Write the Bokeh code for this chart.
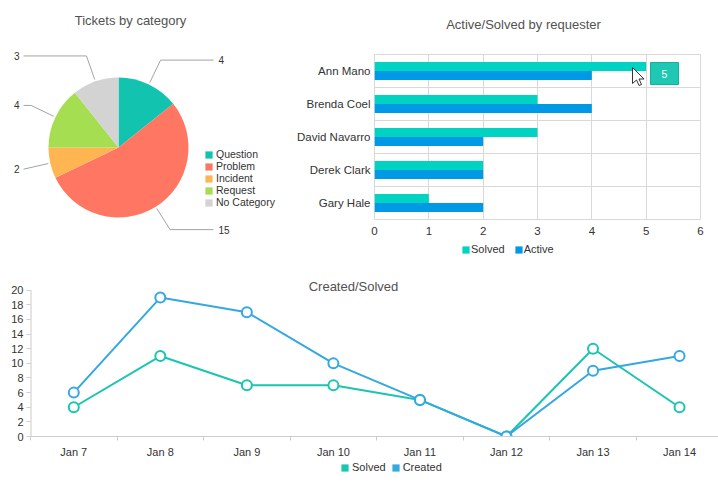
import math
from bokeh.plotting import figure
from bokeh.models import (ColumnDataSource, Range1d, FactorRange, Legend, LegendItem,
                          Label, Span, FixedTicker)
from bokeh.layouts import column, row
from bokeh.transform import dodge
from bokeh.core.properties import value
from bokeh.embed import file_html
from bokeh.resources import INLINE

FONT = "Liberation Sans"
TXT = "#333333"
TTL = "#525252"
GRID = "#d9d9d9"
NAN = float("nan")

# ---------------- data ----------------
pie_categories = ["Question", "Problem", "Incident", "Request", "No Category"]
pie_values = [4, 15, 2, 4, 3]
pie_colors = ["#12C3AF", "#FF7663", "#FFB551", "#A5DE51", "#D3D3D3"]

requesters = ["Ann Mano", "Brenda Coel", "David Navarro", "Derek Clark", "Gary Hale"]
req_solved = [5, 3, 3, 2, 1]
req_active = [4, 4, 2, 2, 2]
bar_ticks = [0, 1, 2, 3, 4, 5, 6]

days = ["Jan 7", "Jan 8", "Jan 9", "Jan 10", "Jan 11", "Jan 12", "Jan 13", "Jan 14"]
day_solved = [4, 11, 7, 7, 5, 0, 12, 4]
day_created = [6, 19, 17, 10, 5, 0, 9, 11]
y_ticks = [0, 2, 4, 6, 8, 10, 12, 14, 16, 18, 20]

SOL_BAR, ACT_BAR = "#00D3C2", "#0099E5"
SOL_LINE, CRE_LINE = "#1CC5AF", "#34A8E0"


def style_legend(leg, size="11px", standoff=3):
    leg.padding = 0
    leg.margin = 0
    leg.spacing = 0
    leg.glyph_width = 9
    leg.glyph_height = 9
    leg.label_standoff = standoff
    leg.label_height = 12
    leg.label_text_font = FONT
    leg.label_text_font_size = size
    leg.label_text_color = TXT
    leg.label_text_baseline = "middle"
    leg.background_fill_alpha = 0
    leg.border_line_color = None


def blank(w, h):
    f = figure(width=w, height=h, x_range=Range1d(0, w), y_range=Range1d(0, h),
               title=None, toolbar_location=None, output_backend="svg", min_border=0,
               x_axis_type=None, y_axis_type=None, outline_line_color=None)
    f.grid.visible = False
    return f


def swatch(f, color):
    # legend-only renderer (no visible data)
    return f.quad(left=[NAN], right=[NAN], top=[NAN], bottom=[NAN],
                  fill_color=color, line_color=None)


def title_label(x, y, text, **kw):
    return Label(x=x, y=y, text=text, text_align="center", text_baseline="middle",
                 text_font=FONT, text_font_size="13px", text_color=TTL, **kw)


# ---------------- pie ----------------
PW, PH = 288, 270
pie = blank(PW, PH)
cx, cy, R = 118, 123, 70
total = float(sum(pie_values))
starts, ends = [], []
acc = 0.0
for v in pie_values:
    starts.append(acc / total)
    acc += v
    ends.append(acc / total)

psrc = ColumnDataSource(dict(
    cat=pie_categories,
    start=[math.pi / 2 - 2 * math.pi * e for e in ends],
    end=[math.pi / 2 - 2 * math.pi * s for s in starts],
    color=pie_colors,
))
wr = pie.wedge(x=cx, y=cy, radius=R, start_angle="start", end_angle="end",
               direction="anticlock", fill_color="color", line_color=None, source=psrc)

lxs, lys = [], []
rx, ry, rt, lx, ly, lt = [], [], [], [], [], []
for v, s, e in zip(pie_values, starts, ends):
    phi = math.pi * (s + e)
    dx, dy = math.sin(phi), math.cos(phi)
    side = 1 if dx > 0 else -1
    x1, y1 = cx + 72 * dx, cy + 72 * dy
    x2, y2 = cx + 97 * dx, cy + 97 * dy
    x3 = cx + 95 * side
    lxs.append([x1, x2, x3])
    lys.append([y1, y2, y2])
    if side > 0:
        rx.append(x3 + 5); ry.append(y2); rt.append(str(v))
    else:
        lx.append(x3 - 4); ly.append(y2); lt.append(str(v))
pie.multi_line(lxs, lys, line_color="#a3a3a3", line_width=1)
pie.text(x=rx, y=ry, text=rt, text_align="left", text_baseline="middle",
         text_font=value(FONT), text_font_size="10px", text_color=TXT)
pie.text(x=lx, y=ly, text=lt, text_align="right", text_baseline="middle",
         text_font=value(FONT), text_font_size="10px", text_color=TXT)
pie.add_layout(title_label(130, 250, "Tickets by category"))
pleg = Legend(items=[LegendItem(label=c, renderers=[wr], index=i)
                     for i, c in enumerate(pie_categories)],
              location=(204, 62), orientation="vertical")
style_legend(pleg, "10.5px", 3)
pie.add_layout(pleg)

# ---------------- bar ----------------
BW = 430
bar_title = blank(BW, 40)
bar_title.add_layout(title_label(235, 16, "Active/Solved by requester"))

bar = figure(width=BW, height=200, y_range=FactorRange(factors=list(reversed(requesters))),
             x_range=Range1d(0, 6), title=None, toolbar_location=None, output_backend="svg",
             min_border_left=86, min_border_right=18, min_border_top=14, min_border_bottom=21,
             outline_line_color=GRID)
bsrc = ColumnDataSource(dict(name=requesters, solved=req_solved, active=req_active))
bar.hbar(y=dodge("name", 0.135, range=bar.y_range), left=0, right="solved", height=0.27,
         fill_color=SOL_BAR, line_color=None, source=bsrc)
bar.hbar(y=dodge("name", -0.135, range=bar.y_range), left=0, right="active", height=0.27,
         fill_color=ACT_BAR, line_color=None, source=bsrc)
bar.ygrid.grid_line_color = None
bar.xgrid.grid_line_color = GRID
for k in range(1, len(requesters)):
    bar.add_layout(Span(location=k, dimension="width", line_color=GRID, line_width=1))
bar.xaxis.ticker = FixedTicker(ticks=bar_ticks)
for ax in (bar.xaxis, bar.yaxis):
    ax.axis_line_color = None
    ax.major_tick_line_color = None
    ax.major_tick_out = 0
    ax.major_tick_in = 0
    ax.minor_tick_line_color = None
    ax.minor_tick_out = 0
    ax.major_label_text_font = FONT
    ax.major_label_text_color = TXT
    ax.major_label_text_font_size = "11.5px"
bar.xaxis.major_label_standoff = 7
bar.yaxis.major_label_standoff = 4

# hover tooltip box shown in the picture (Ann Mano / Solved)
top_c = len(requesters) - 0.5
tv = req_solved[0]
bar.quad(left=[tv + 0.08], right=[tv + 0.595], bottom=[top_c - 0.41], top=[top_c + 0.258],
         fill_color="#1EC8B3", line_color="#17B09E", line_width=1)
bar.text(x=[tv + 0.3375], y=[top_c - 0.076], text=[str(tv)], text_align="center",
         text_baseline="middle", text_font=value(FONT), text_font_size="10.5px",
         text_color="white")
# mouse cursor
tipx, tipy = 4.749, top_c + 0.106
arrow = [(0, 0), (0, 16), (4, 12.5), (6.5, 18), (9, 17), (6.5, 11.5), (11.5, 11.5)]
bar.patch([tipx + px / 54.33 for px, py in arrow], [tipy - py / 33.0 for px, py in arrow],
          fill_color="white", line_color="#333333", line_width=1)

bar_leg = blank(BW, 30)
bleg = Legend(items=[("Solved", [swatch(bar_leg, SOL_BAR)]),
                     ("Active", [swatch(bar_leg, ACT_BAR)])],
              location=(173, 15), orientation="horizontal")
style_legend(bleg, "11px", 1)
bleg.spacing = 9
bar_leg.add_layout(bleg)

# ---------------- line ----------------
LW = 718
line = figure(width=LW, height=192, x_range=Range1d(0, 7.95), y_range=Range1d(0, 21.88),
              title=None, toolbar_location=None, output_backend="svg",
              min_border_left=30, min_border_right=0, min_border_top=6, min_border_bottom=26,
              outline_line_color=None)
line.grid.visible = False
xs = [i + 0.5 for i in range(len(days))]
line.xaxis.ticker = FixedTicker(ticks=xs, minor_ticks=list(range(len(days) + 1)))
line.xaxis.major_label_overrides = {x: d for x, d in zip(xs, days)}
line.yaxis.ticker = FixedTicker(ticks=y_ticks)
for ax in (line.xaxis, line.yaxis):
    ax.axis_line_color = "#cccccc"
    ax.major_label_text_font = FONT
    ax.major_label_text_color = TXT
    ax.major_label_text_font_size = "11px"
line.yaxis.axis_line_color = None
line.segment(x0=[0], y0=[y_ticks[0]], x1=[0], y1=[y_ticks[-1]], line_color="#cccccc",
             line_width=2)
line.xaxis.major_tick_line_color = None
line.xaxis.major_tick_out = 0
line.xaxis.major_tick_in = 0
line.xaxis.minor_tick_line_color = "#cccccc"
line.xaxis.minor_tick_in = 0
line.xaxis.minor_tick_out = 4
line.xaxis.major_label_standoff = 5
line.yaxis.major_tick_line_color = "#cccccc"
line.yaxis.major_tick_in = 0
line.yaxis.major_tick_out = 4
line.yaxis.minor_tick_line_color = None
line.yaxis.minor_tick_out = 0
line.yaxis.major_label_standoff = 3

line.line(xs, day_solved, line_color=SOL_LINE, line_width=2)
line.scatter(xs, day_solved, size=10, fill_color="white", line_color=SOL_LINE, line_width=2)
line.line(xs, day_created, line_color=CRE_LINE, line_width=2)
line.scatter(xs, day_created, size=10, fill_color="white", line_color=CRE_LINE, line_width=2)
line.add_layout(title_label(323, 150, "Created/Solved", x_units="screen", y_units="screen"))

line_leg = blank(LW, 24)
lleg = Legend(items=[("Solved", [swatch(line_leg, SOL_LINE)]),
                     ("Created", [swatch(line_leg, CRE_LINE)])],
              location=(340, 13), orientation="horizontal")
style_legend(lleg, "11px", 3)
lleg.spacing = 5
line_leg.add_layout(lleg)

layout = column(
    row(column(pie), column(column(bar_title), column(bar), column(bar_leg))),
    column(column(line), column(line_leg)),
)
open("out.html", "w").write(file_html(layout, INLINE))
